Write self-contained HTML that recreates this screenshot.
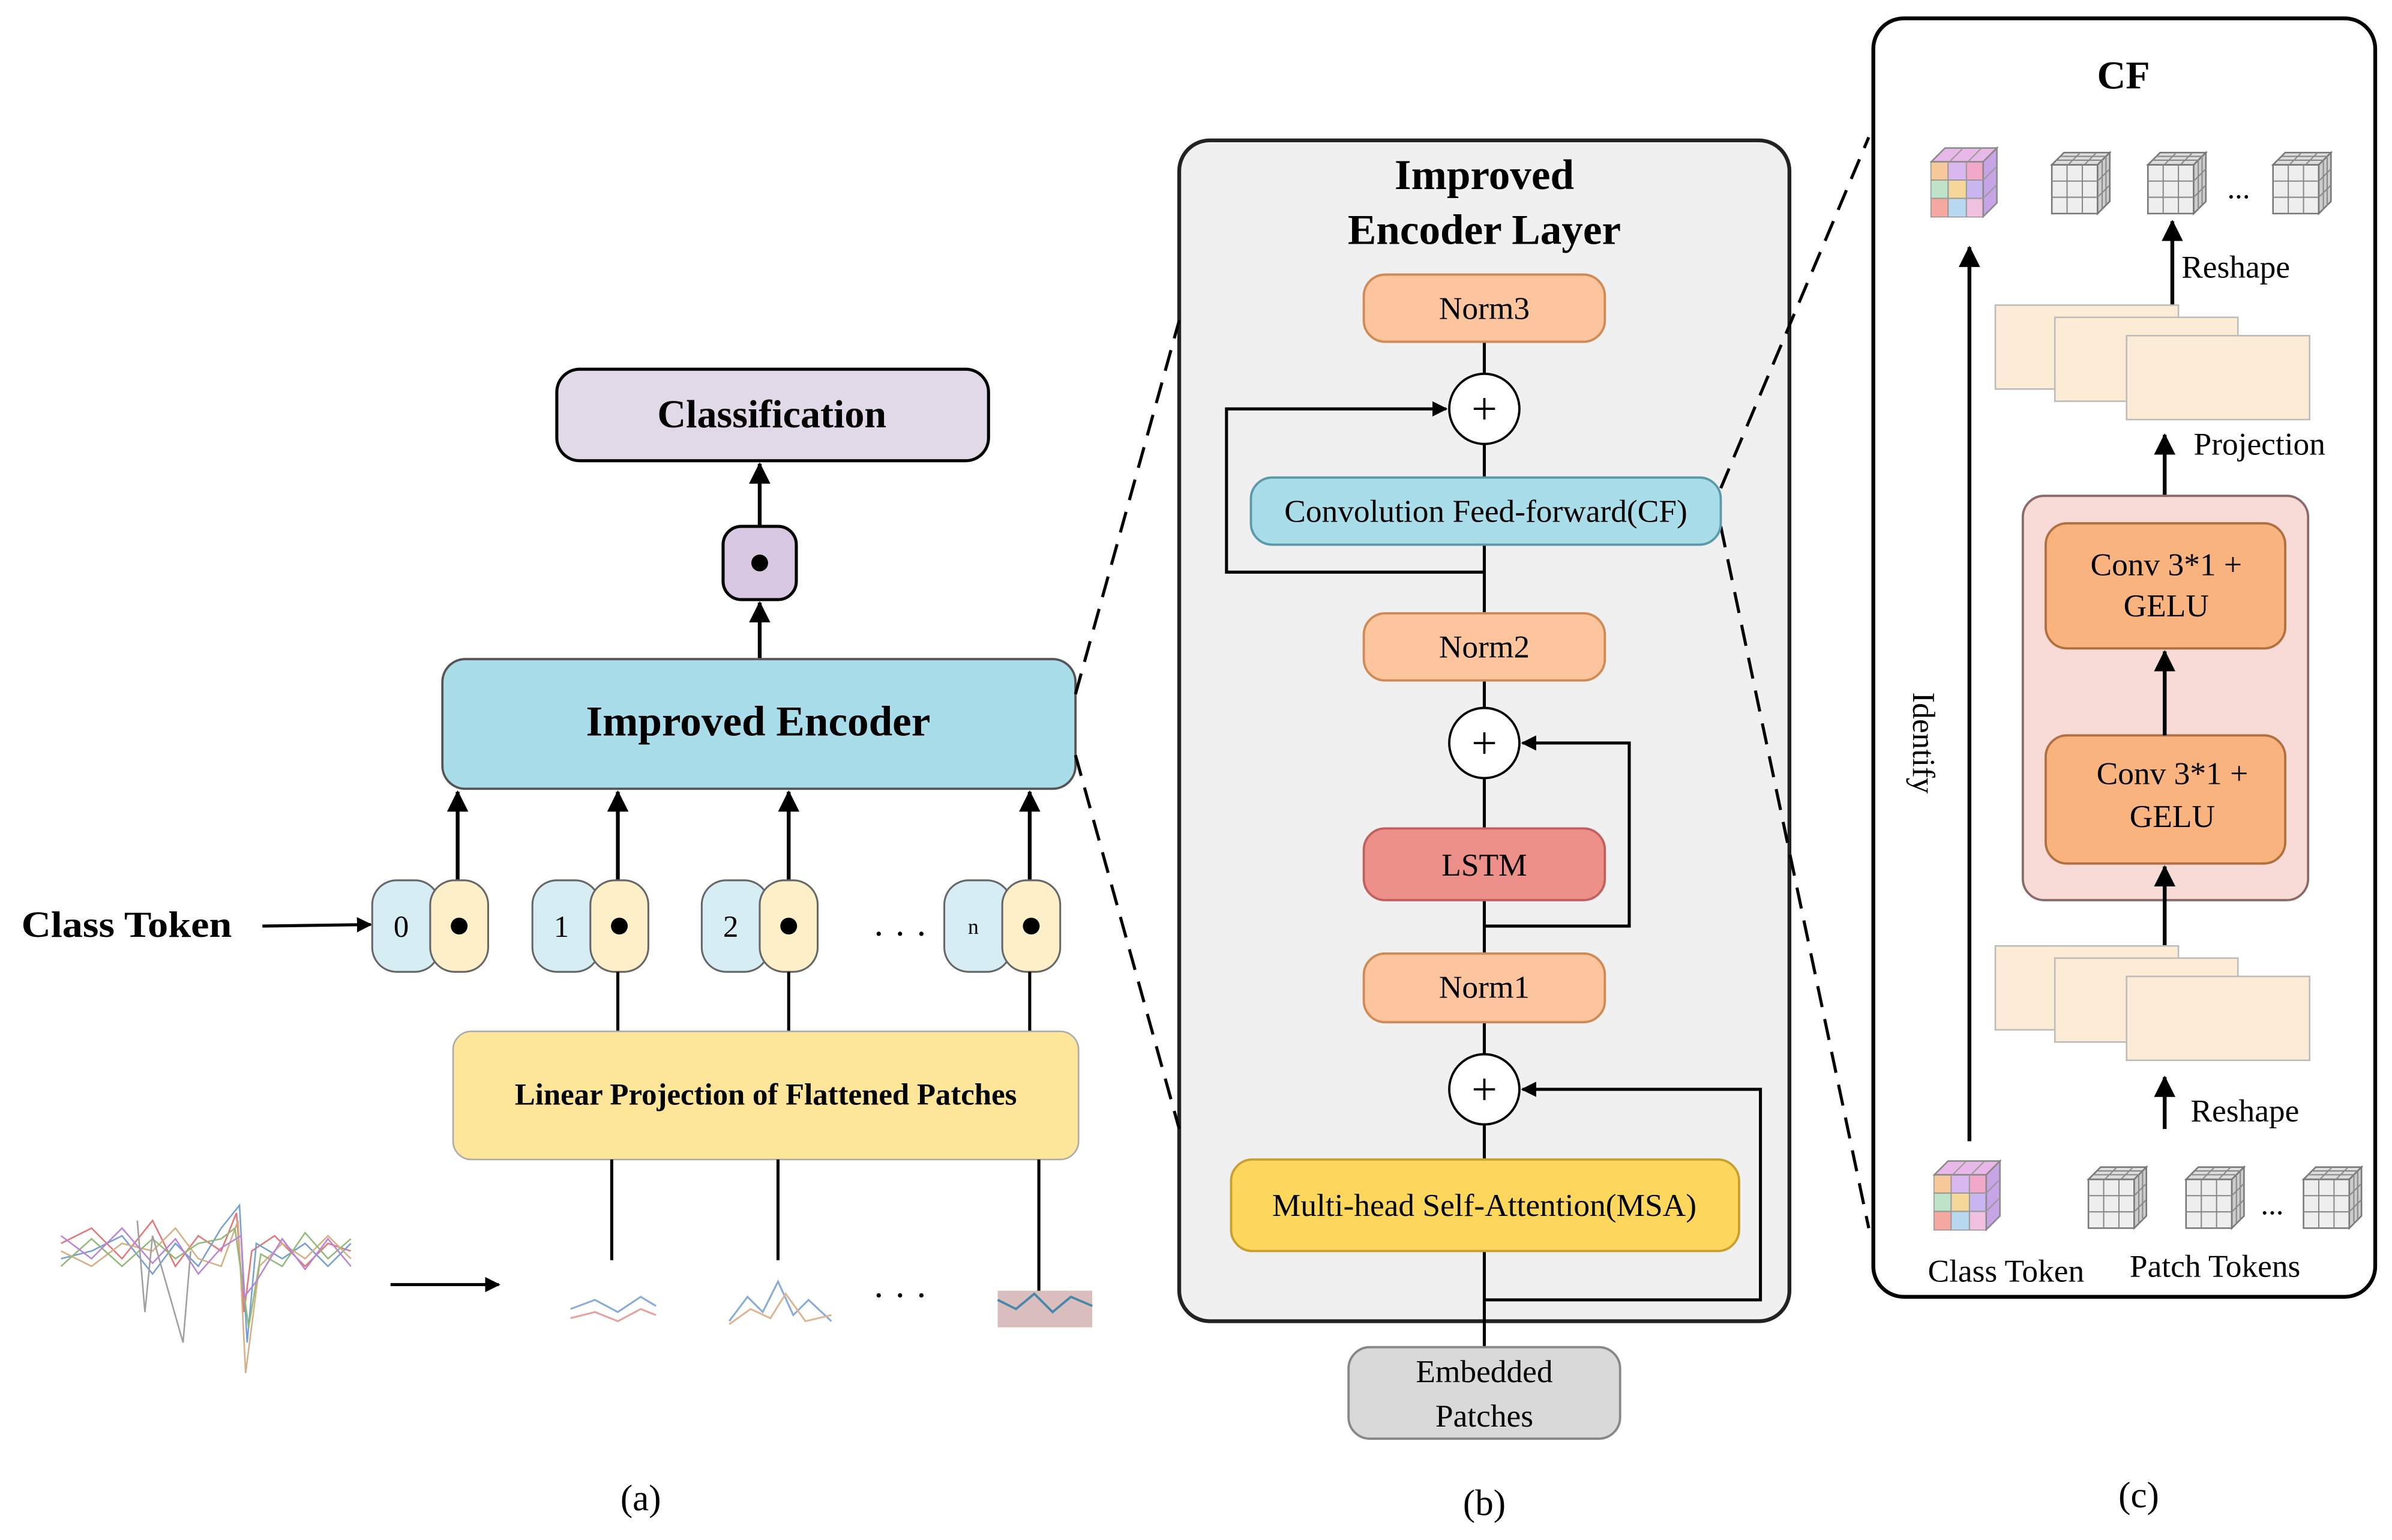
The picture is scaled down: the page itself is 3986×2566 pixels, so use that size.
<!DOCTYPE html>
<html><head><meta charset="utf-8"><style>
html,body{margin:0;padding:0;background:#fff;}
svg{display:block;}
text{font-family:"Liberation Serif",serif;}
</style></head><body>
<svg width="3986" height="2566" viewBox="0 0 1568 1009.4" xmlns="http://www.w3.org/2000/svg">
<defs>
<marker id="ah" markerWidth="10" markerHeight="10" refX="9" refY="5" orient="auto" markerUnits="userSpaceOnUse" viewBox="0 0 10 10">
<path d="M0,0 L10,5 L0,10 z" fill="#000"/></marker>
<marker id="ah2" markerWidth="14" markerHeight="14" refX="13" refY="7" orient="auto" markerUnits="userSpaceOnUse" viewBox="0 0 14 14">
<path d="M0,0 L14,7 L0,14 z" fill="#000"/></marker>
<g id="gcube">
<path d="M0,8 h30 v32 h-30 z" fill="#eee" stroke="#777" stroke-width="1"/>
<path d="M0,8 l8,-8 h30 l-8,8 z" fill="#ddd" stroke="#777"/>
<path d="M30,8 l8,-8 v32 l-8,8 z" fill="#ccc" stroke="#777"/>
<path d="M10,8 v32 M20,8 v32 M0,18.7 h30 M0,29.3 h30 M10.7,8 l8,-8 M21.3,8 l8,-8 M3,5 h30 M5.5,2.5 h30 M30,18.7 l8,-8 M30,29.3 l8,-8 M33,5 v32 M35.5,2.5 v32" stroke="#888" stroke-width="0.8" fill="none"/>
</g>
<g id="ccube">
<path d="M0,9 h34 v36 h-34 z" fill="#f4b6c6" stroke="#888"/>
<rect x="0" y="9" width="11" height="12" fill="#f7c99a"/><rect x="11" y="9" width="12" height="12" fill="#d9b8ef"/><rect x="23" y="9" width="11" height="12" fill="#f2a8c8"/>
<rect x="0" y="21" width="11" height="12" fill="#bfe3c8"/><rect x="11" y="21" width="12" height="12" fill="#f6d79a"/><rect x="23" y="21" width="11" height="12" fill="#c8b6f0"/>
<rect x="0" y="33" width="11" height="12" fill="#f5a8a0"/><rect x="11" y="33" width="12" height="12" fill="#b8d8f0"/><rect x="23" y="33" width="11" height="12" fill="#f0c0e0"/>
<path d="M0,9 l9,-9 h34 l-9,9 z" fill="#e8b8e8" stroke="#888"/>
<path d="M34,9 l9,-9 v36 l-9,9 z" fill="#c7a4e6" stroke="#888"/>
<path d="M11,9 v36 M23,9 v36 M0,21 h34 M0,33 h34 M12,9 l9,-9 M24,9 l9,-9 M34,21 l9,-9 M34,33 l9,-9" stroke="#999" stroke-width="0.8" fill="none"/>
</g>
</defs>

<!-- Panel (a) -->
<rect x="365" y="242" width="283" height="60" rx="15" fill="#e1d8e8" stroke="#000" stroke-width="2"/>
<text x="506" y="280" font-size="26" font-weight="bold" text-anchor="middle">Classification</text>
<line x1="498" y1="345" x2="498" y2="304" stroke="#000" stroke-width="2.5" marker-end="url(#ah2)"/>
<rect x="474" y="345" width="48" height="48" rx="12" fill="#d8c8e2" stroke="#000" stroke-width="2"/>
<circle cx="498" cy="369" r="5.5" fill="#000"/>
<line x1="498" y1="432" x2="498" y2="395" stroke="#000" stroke-width="2.5" marker-end="url(#ah2)"/>
<rect x="290" y="432" width="415" height="85" rx="15" fill="#a9dde9" stroke="#555" stroke-width="1.5"/>
<text x="497" y="482" font-size="28" font-weight="bold" text-anchor="middle">Improved Encoder</text>
<g stroke="#000" stroke-width="2.5">
<line x1="300" y1="577" x2="300" y2="519" marker-end="url(#ah2)"/>
<line x1="405" y1="577" x2="405" y2="519" marker-end="url(#ah2)"/>
<line x1="517" y1="577" x2="517" y2="519" marker-end="url(#ah2)"/>
<line x1="675" y1="577" x2="675" y2="519" marker-end="url(#ah2)"/>
</g>
<text x="14" y="614" font-size="24" font-weight="bold" textLength="138" lengthAdjust="spacingAndGlyphs">Class Token</text>
<line x1="172" y1="607" x2="243" y2="606" stroke="#000" stroke-width="2" marker-end="url(#ah)"/>
<g stroke="#666" stroke-width="1.2">
<rect x="244" y="577" width="44" height="60" rx="16" fill="#d6edf4"/><rect x="282" y="577" width="38" height="60" rx="16" fill="#fdf0c9"/>
<rect x="349" y="577" width="44" height="60" rx="16" fill="#d6edf4"/><rect x="387" y="577" width="38" height="60" rx="16" fill="#fdf0c9"/>
<rect x="460" y="577" width="44" height="60" rx="16" fill="#d6edf4"/><rect x="498" y="577" width="38" height="60" rx="16" fill="#fdf0c9"/>
<rect x="619" y="577" width="44" height="60" rx="16" fill="#d6edf4"/><rect x="657" y="577" width="38" height="60" rx="16" fill="#fdf0c9"/>
</g>
<g font-size="20" text-anchor="middle"><text x="263" y="614">0</text><text x="368" y="614">1</text><text x="479" y="614">2</text><text x="638" y="612" font-size="14">n</text></g>
<g fill="#000"><circle cx="301" cy="607" r="5.5"/><circle cx="406" cy="607" r="5.5"/><circle cx="517" cy="607" r="5.5"/><circle cx="676" cy="607" r="5.5"/></g>
<text x="572" y="620" font-size="24">· · ·</text>
<g stroke="#000" stroke-width="2"><line x1="405" y1="637" x2="405" y2="676"/><line x1="517" y1="637" x2="517" y2="676"/><line x1="675" y1="637" x2="675" y2="676"/></g>
<rect x="297" y="676" width="410" height="84" rx="12" fill="#fde59a" stroke="#aaa" stroke-width="1"/>
<text x="502" y="724" font-size="20" font-weight="bold" text-anchor="middle">Linear Projection of Flattened Patches</text>
<g stroke="#000" stroke-width="2"><line x1="401" y1="760" x2="401" y2="826"/><line x1="510" y1="760" x2="510" y2="826"/><line x1="681" y1="760" x2="681" y2="846"/></g>
<!-- signal -->
<g fill="none" stroke-width="1" opacity="0.8">
<polyline points="40,815 60,805 80,825 100,800 115,830 130,810 145,820 155,795 160,860 165,820 180,810 200,830 215,815 230,820" stroke="#d55"/>
<polyline points="40,825 60,820 80,810 100,835 115,815 130,830 145,805 157,790 162,880 168,815 185,825 200,815 215,830 230,815" stroke="#58c"/>
<polyline points="40,820 60,830 80,815 100,820 115,805 130,825 145,830 156,800 161,900 170,830 185,815 200,825 215,810 230,825" stroke="#c96"/>
<polyline points="40,830 60,812 80,830 100,812 115,825 130,815 145,812 154,805 163,870 171,822 185,830 200,808 215,825 230,812" stroke="#7a5"/>
<polyline points="40,810 60,825 80,805 100,828 115,812 130,835 145,818 158,810 160,850 168,840 185,812 200,832 215,812 230,830" stroke="#a6c"/>
<polyline points="90,800 95,860 100,810 120,880 125,820" stroke="#888"/>
</g>
<line x1="256" y1="842" x2="327" y2="842" stroke="#000" stroke-width="2" marker-end="url(#ah)"/>
<g fill="none" stroke-width="1.2" opacity="0.7">
<polyline points="374,858 390,852 405,860 420,850 430,856" stroke="#58c"/>
<polyline points="374,864 390,860 405,866 420,858 430,862" stroke="#d77"/>
<polyline points="478,866 490,850 500,860 510,840 520,862 530,852 545,866" stroke="#58c"/>
<polyline points="478,868 492,858 505,864 515,848 528,866 545,862" stroke="#c96"/>
</g>
<rect x="654" y="846" width="62" height="24" fill="#b88" opacity="0.55"/>
<polyline points="654,852 666,858 678,848 690,860 702,850 716,856" fill="none" stroke="#48a" stroke-width="1.5"/>
<text x="572" y="857" font-size="24">· · ·</text>
<text x="420" y="990" font-size="24" text-anchor="middle">(a)</text>

<!-- Panel (b) -->
<rect x="773" y="92" width="400" height="774" rx="20" fill="#f0f0f0" stroke="#222" stroke-width="2.5"/>

<!-- dashed connectors -->
<g stroke="#000" stroke-width="2" stroke-dasharray="14,8" fill="none">
<line x1="705" y1="455" x2="773" y2="210"/><line x1="705" y1="495" x2="773" y2="740"/>
<line x1="1128" y1="320" x2="1225" y2="90"/><line x1="1128" y1="345" x2="1225" y2="805"/>
</g>

<text x="973" y="124" font-size="28" font-weight="bold" text-anchor="middle">Improved</text>
<text x="973" y="160" font-size="28" font-weight="bold" text-anchor="middle">Encoder Layer</text>
<line x1="973" y1="883" x2="973" y2="224" stroke="#000" stroke-width="2"/>
<g stroke="#000" stroke-width="2" fill="none">
<polyline points="973,375 804,375 804,268 948,268" marker-end="url(#ah)"/>
<polyline points="973,607 1068,607 1068,487 998,487" marker-end="url(#ah)"/>
<polyline points="973,852 1154,852 1154,714 998,714" marker-end="url(#ah)"/>
</g>
<g stroke="#d08a55" stroke-width="1.5">
<rect x="894" y="180" width="158" height="44" rx="14" fill="#fcc59e"/>
<rect x="894" y="402" width="158" height="44" rx="14" fill="#fcc59e"/>
<rect x="894" y="625" width="158" height="45" rx="14" fill="#fcc59e"/>
<rect x="894" y="543" width="158" height="47" rx="14" fill="#ee908a" stroke="#c06060"/>
</g>
<rect x="820" y="313" width="308" height="44" rx="14" fill="#a9dde9" stroke="#5a9aaa" stroke-width="1.5"/>
<rect x="807" y="760" width="333" height="60" rx="14" fill="#fdd75c" stroke="#c9a030" stroke-width="1.5"/>
<rect x="884" y="883" width="178" height="60" rx="14" fill="#d9d9d9" stroke="#888" stroke-width="1.5"/>
<g font-size="21" text-anchor="middle">
<text x="973" y="209">Norm3</text><text x="973" y="431">Norm2</text><text x="973" y="654">Norm1</text><text x="973" y="574">LSTM</text>
<text x="974" y="342">Convolution Feed-forward(CF)</text>
<text x="973" y="797">Multi-head Self-Attention(MSA)</text>
<text x="973" y="906">Embedded</text><text x="973" y="935">Patches</text>
</g>
<g fill="#fff" stroke="#000" stroke-width="1.5"><circle cx="973" cy="268" r="23"/><circle cx="973" cy="487" r="23"/><circle cx="973" cy="714" r="23"/></g>
<g font-size="30" text-anchor="middle"><text x="973" y="278">+</text><text x="973" y="497">+</text><text x="973" y="724">+</text></g>
<text x="973" y="993" font-size="24" text-anchor="middle">(b)</text>

<!-- Panel (c) -->
<rect x="1228" y="12" width="329" height="838" rx="20" fill="#fff" stroke="#000" stroke-width="2.5"/>
<text x="1392" y="58" font-size="26" font-weight="bold" text-anchor="middle">CF</text>
<use href="#ccube" x="1266" y="97"/>
<use href="#gcube" x="1345" y="100"/><use href="#gcube" x="1408" y="100"/><use href="#gcube" x="1490" y="100"/>
<text x="1460" y="130" font-size="20">...</text>
<line x1="1424" y1="200" x2="1424" y2="145" stroke="#000" stroke-width="2.5" marker-end="url(#ah2)"/>
<text x="1430" y="182" font-size="21">Reshape</text>
<g fill="#fdecd5" stroke="#bbb" stroke-width="1">
<rect x="1308" y="200" width="120" height="55"/><rect x="1347" y="208" width="120" height="55"/><rect x="1394" y="220" width="120" height="55"/>
</g>
<line x1="1419" y1="340" x2="1419" y2="285" stroke="#000" stroke-width="2.5" marker-end="url(#ah2)"/>
<text x="1438" y="298" font-size="21">Projection</text>
<rect x="1326" y="325" width="187" height="265" rx="14" fill="#f8dad7" stroke="#8a6a6a" stroke-width="1.5"/>
<rect x="1341" y="343" width="157" height="82" rx="14" fill="#f9b37f" stroke="#b07040" stroke-width="1.5"/>
<rect x="1341" y="482" width="157" height="84" rx="14" fill="#f9b37f" stroke="#b07040" stroke-width="1.5"/>
<g font-size="21" text-anchor="middle">
<text x="1420" y="377">Conv 3*1 +</text><text x="1420" y="404">GELU</text>
<text x="1424" y="514">Conv 3*1 +</text><text x="1424" y="542">GELU</text>
</g>
<line x1="1419" y1="482" x2="1419" y2="427" stroke="#000" stroke-width="2.5" marker-end="url(#ah2)"/>
<line x1="1419" y1="620" x2="1419" y2="568" stroke="#000" stroke-width="2.5" marker-end="url(#ah2)"/>
<g fill="#fdecd5" stroke="#bbb" stroke-width="1">
<rect x="1308" y="620" width="120" height="55"/><rect x="1347" y="628" width="120" height="55"/><rect x="1394" y="640" width="120" height="55"/>
</g>
<line x1="1419" y1="740" x2="1419" y2="706" stroke="#000" stroke-width="2.5" marker-end="url(#ah2)"/>
<text x="1436" y="735" font-size="21">Reshape</text>
<line x1="1291" y1="748" x2="1291" y2="162" stroke="#000" stroke-width="2.5" marker-end="url(#ah2)"/>
<text x="1254" y="487" font-size="21" text-anchor="middle" transform="rotate(90 1254 487)">Identify</text>
<use href="#ccube" x="1268" y="761"/>
<use href="#gcube" x="1369" y="765"/><use href="#gcube" x="1433" y="765"/><use href="#gcube" x="1510" y="765"/>
<text x="1482" y="796" font-size="20">...</text>
<text x="1315" y="840" font-size="21" text-anchor="middle">Class Token</text>
<text x="1452" y="837" font-size="21" text-anchor="middle">Patch Tokens</text>
<text x="1402" y="988" font-size="24" text-anchor="middle">(c)</text>
</svg>
</body></html>
